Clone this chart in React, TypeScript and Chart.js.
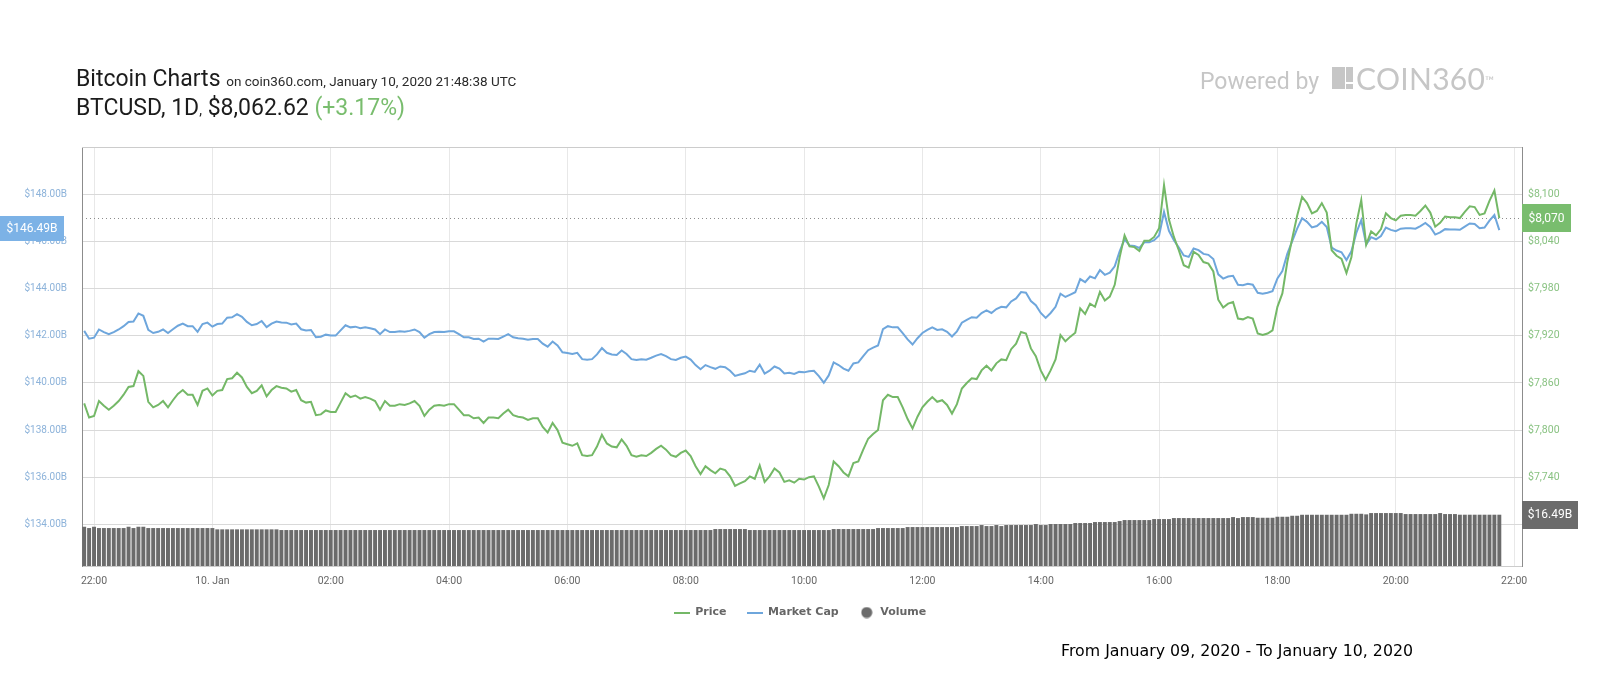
import React, { useEffect, useRef } from "react";
import { Chart, registerables } from "chart.js";

Chart.register(...registerables);

// ---------- data ----------
const startMinute = -10; // first sample 21:50 (minutes relative to 22:00, Jan 9)
const stepMinutes = 5;

const xTickMinutes = [0, 120, 240, 360, 480, 600, 720, 840, 960, 1080, 1200, 1320, 1440];
const xTickLabels = ["22:00", "10. Jan", "02:00", "04:00", "06:00", "08:00", "10:00", "12:00", "14:00", "16:00", "18:00", "20:00", "22:00"];
const marketCapTicks = [134, 136, 138, 140, 142, 144, 146, 148];
const priceTicks = [7680, 7740, 7800, 7860, 7920, 7980, 8040, 8100];

const priceValues = [
  7834, 7816, 7818, 7837, 7831, 7826, 7831, 7837, 7845, 7855, 7856, 7875,
  7869, 7836, 7829, 7832, 7837, 7829, 7838, 7846, 7851, 7845, 7845, 7832,
  7850, 7853, 7844, 7850, 7851, 7865, 7866, 7873, 7867, 7855, 7847, 7850,
  7857, 7843, 7851, 7856, 7854, 7853, 7849, 7851, 7838, 7835, 7836, 7819,
  7820, 7825, 7823, 7823, 7835, 7847, 7842, 7844, 7840, 7842, 7840, 7837,
  7826, 7837, 7831, 7831, 7833, 7832, 7834, 7837, 7831, 7818, 7826, 7831,
  7832, 7831, 7833, 7833, 7826, 7819, 7819, 7815, 7816, 7809, 7816, 7816,
  7815, 7821, 7826, 7819, 7817, 7816, 7813, 7815, 7815, 7804, 7797, 7809,
  7800, 7784, 7782, 7780, 7783, 7768, 7767, 7768, 7779, 7794, 7783, 7779,
  7778, 7788, 7780, 7768, 7766, 7768, 7767, 7771, 7776, 7780, 7775, 7768,
  7766, 7771, 7774, 7767, 7754, 7744, 7754, 7749, 7745, 7751, 7749, 7741,
  7729, 7732, 7735, 7741, 7738, 7755, 7734, 7741, 7751, 7746, 7734, 7736,
  7733, 7738, 7737, 7740, 7741, 7728, 7713, 7730, 7760, 7754, 7746, 7741,
  7758, 7760, 7775, 7789, 7795, 7800, 7838, 7845, 7842, 7842, 7829, 7814,
  7802, 7817, 7829, 7836, 7842, 7836, 7838, 7832, 7821, 7833, 7853, 7860,
  7866, 7865, 7876, 7882, 7876, 7885, 7890, 7889, 7903, 7910, 7925, 7923,
  7904, 7894, 7876, 7864, 7876, 7890, 7921, 7913, 7919, 7924, 7955, 7948,
  7961, 7957, 7976, 7965, 7970, 7985, 8020, 8048, 8034, 8033, 8028, 8041,
  8041, 8046, 8057, 8112, 8068, 8046, 8029, 8010, 8007, 8027, 8023, 8014,
  8012, 8002, 7966, 7956, 7961, 7963, 7942, 7941, 7944, 7942, 7923, 7921,
  7923, 7927, 7957, 7974, 8014, 8044, 8073, 8097, 8089, 8076, 8079, 8089,
  8077, 8029, 8022, 8018, 8000, 8020, 8063, 8093, 8036, 8053, 8048, 8056,
  8076, 8070, 8067, 8073, 8074, 8074, 8073, 8079, 8086, 8077, 8059, 8064,
  8072, 8071, 8071, 8070, 8078, 8085, 8084, 8074, 8076, 8092, 8105, 8070,
];

const marketCapValues = [
  142.21, 141.88, 141.92, 142.27, 142.16, 142.07, 142.16, 142.27, 142.41, 142.59, 142.61, 142.95,
  142.85, 142.25, 142.12, 142.17, 142.27, 142.12, 142.28, 142.43, 142.52, 142.41, 142.41, 142.17,
  142.50, 142.56, 142.39, 142.50, 142.52, 142.77, 142.79, 142.92, 142.81, 142.59, 142.45, 142.50,
  142.63, 142.37, 142.52, 142.61, 142.57, 142.56, 142.48, 142.52, 142.28, 142.23, 142.25, 141.94,
  141.96, 142.05, 142.01, 142.01, 142.23, 142.45, 142.36, 142.39, 142.32, 142.36, 142.32, 142.27,
  142.07, 142.27, 142.16, 142.16, 142.19, 142.17, 142.21, 142.27, 142.16, 141.92, 142.07, 142.16,
  142.17, 142.16, 142.19, 142.19, 142.07, 141.94, 141.94, 141.87, 141.88, 141.76, 141.88, 141.88,
  141.87, 141.97, 142.07, 141.94, 141.90, 141.88, 141.83, 141.87, 141.87, 141.67, 141.54, 141.76,
  141.59, 141.30, 141.27, 141.23, 141.28, 141.01, 140.99, 141.01, 141.21, 141.48, 141.28, 141.21,
  141.19, 141.38, 141.23, 141.01, 140.98, 141.01, 140.99, 141.07, 141.16, 141.23, 141.14, 141.01,
  140.98, 141.07, 141.12, 140.99, 140.76, 140.58, 140.76, 140.67, 140.60, 140.70, 140.67, 140.52,
  140.30, 140.36, 140.41, 140.52, 140.47, 140.78, 140.40, 140.52, 140.70, 140.61, 140.40, 140.43,
  140.38, 140.47, 140.45, 140.50, 140.52, 140.29, 140.01, 140.32, 140.87, 140.76, 140.61, 140.52,
  140.83, 140.87, 141.14, 141.39, 141.50, 141.59, 142.28, 142.41, 142.36, 142.36, 142.12, 141.85,
  141.63, 141.90, 142.12, 142.25, 142.36, 142.25, 142.28, 142.17, 141.97, 142.19, 142.56, 142.68,
  142.79, 142.77, 142.97, 143.08, 142.97, 143.14, 143.23, 143.21, 143.46, 143.59, 143.86, 143.83,
  143.48, 143.30, 142.97, 142.76, 142.97, 143.23, 143.79, 143.65, 143.75, 143.85, 144.41, 144.28,
  144.52, 144.44, 144.79, 144.59, 144.68, 144.95, 145.59, 146.10, 145.84, 145.82, 145.73, 145.97,
  145.97, 146.06, 146.26, 147.26, 146.46, 146.06, 145.75, 145.41, 145.35, 145.71, 145.64, 145.48,
  145.44, 145.26, 144.61, 144.43, 144.52, 144.55, 144.17, 144.15, 144.21, 144.17, 143.83, 143.79,
  143.83, 143.90, 144.44, 144.75, 145.48, 146.02, 146.55, 146.99, 146.84, 146.60, 146.66, 146.84,
  146.62, 145.75, 145.62, 145.55, 145.22, 145.59, 146.37, 146.91, 145.88, 146.19, 146.10, 146.24,
  146.60, 146.50, 146.44, 146.55, 146.57, 146.57, 146.55, 146.66, 146.79, 146.62, 146.30, 146.39,
  146.53, 146.51, 146.51, 146.50, 146.64, 146.77, 146.75, 146.57, 146.60, 146.89, 147.13, 146.49,
];

const volumeValues = [
  12.62, 12.20, 12.62, 12.20, 12.20, 12.20, 12.20, 12.20, 12.20, 12.62, 12.20, 12.62,
  12.62, 12.20, 12.20, 12.20, 12.20, 12.20, 12.20, 12.20, 12.20, 12.20, 12.20, 12.20,
  12.20, 12.20, 12.20, 11.78, 11.78, 11.78, 11.78, 11.78, 11.78, 11.78, 11.78, 11.78,
  11.78, 11.78, 11.78, 11.78, 11.56, 11.56, 11.56, 11.56, 11.56, 11.56, 11.56, 11.56,
  11.56, 11.56, 11.56, 11.56, 11.56, 11.56, 11.56, 11.56, 11.56, 11.56, 11.56, 11.56,
  11.56, 11.56, 11.56, 11.56, 11.56, 11.56, 11.56, 11.56, 11.56, 11.56, 11.56, 11.56,
  11.56, 11.56, 11.56, 11.56, 11.56, 11.56, 11.56, 11.56, 11.56, 11.56, 11.56, 11.56,
  11.56, 11.56, 11.56, 11.56, 11.56, 11.56, 11.56, 11.56, 11.56, 11.56, 11.56, 11.56,
  11.56, 11.56, 11.56, 11.56, 11.56, 11.56, 11.56, 11.56, 11.56, 11.56, 11.56, 11.56,
  11.56, 11.56, 11.56, 11.56, 11.56, 11.56, 11.56, 11.56, 11.56, 11.56, 11.56, 11.56,
  11.56, 11.56, 11.56, 11.56, 11.56, 11.56, 11.56, 11.56, 11.88, 11.88, 11.88, 11.88,
  11.88, 11.88, 11.88, 11.56, 11.56, 11.56, 11.56, 11.56, 11.56, 11.56, 11.56, 11.56,
  11.56, 11.56, 11.56, 11.56, 11.56, 11.56, 11.56, 11.56, 11.88, 11.88, 11.88, 11.88,
  11.88, 11.88, 11.88, 11.88, 11.88, 12.20, 12.20, 12.20, 12.20, 12.20, 12.20, 12.52,
  12.52, 12.52, 12.52, 12.52, 12.52, 12.52, 12.52, 12.52, 12.52, 12.52, 12.84, 12.84,
  12.84, 12.84, 13.17, 12.84, 12.84, 13.17, 12.84, 13.17, 13.17, 13.17, 13.17, 13.17,
  13.17, 13.49, 13.17, 13.17, 13.49, 13.49, 13.49, 13.49, 13.49, 13.81, 13.81, 13.81,
  13.81, 14.13, 14.13, 14.13, 14.13, 14.13, 14.45, 14.77, 14.77, 14.77, 14.77, 14.77,
  14.77, 15.09, 15.09, 15.09, 15.09, 15.41, 15.41, 15.41, 15.41, 15.41, 15.41, 15.41,
  15.41, 15.41, 15.41, 15.41, 15.41, 15.73, 15.41, 15.73, 15.73, 15.73, 15.51, 15.51,
  15.51, 15.51, 15.83, 15.83, 15.83, 16.15, 16.15, 16.47, 16.47, 16.47, 16.47, 16.47,
  16.47, 16.47, 16.47, 16.47, 16.47, 16.79, 16.79, 16.79, 16.60, 17.02, 17.02, 17.02,
  17.02, 17.02, 17.02, 17.02, 16.70, 16.70, 16.70, 16.70, 16.70, 16.70, 16.70, 17.02,
  16.70, 16.70, 16.70, 16.49, 16.49, 16.49, 16.49, 16.49, 16.49, 16.49, 16.49, 16.49,
];

// ---------- styles ----------
const PRICE_COLOR = "#74b867";
const MCAP_COLOR = "#6ea6dc";
const VOLUME_COLOR = "#6b6b6b";

const fmtPrice = (v: number) => "$" + Math.round(v).toLocaleString("en-US");
const fmtBillions = (v: number) => "$" + Number(v).toFixed(2) + "B";

function lineIcon(color: string) {
  const c = document.createElement("canvas");
  c.width = 16;
  c.height = 2;
  const g = c.getContext("2d")!;
  g.fillStyle = color;
  g.fillRect(0, 0, 16, 2);
  return c;
}
function dotIcon(color: string) {
  const c = document.createElement("canvas");
  c.width = 12;
  c.height = 12;
  const g = c.getContext("2d")!;
  g.fillStyle = color;
  g.beginPath();
  g.arc(6, 6, 5.5, 0, Math.PI * 2);
  g.fill();
  return c;
}

const overlayPlugin = {
  id: "overlay",
  beforeDatasetsDraw(chart: any) {
    const { ctx, chartArea: ca, scales } = chart;
    ctx.save();
    // top frame line
    ctx.strokeStyle = "#cccccc";
    ctx.lineWidth = 1;
    ctx.beginPath();
    ctx.moveTo(ca.left, Math.round(ca.top) + 0.5);
    ctx.lineTo(ca.right, Math.round(ca.top) + 0.5);
    ctx.stroke();
    // dotted current-price line
    const yLast = scales.yP.getPixelForValue(priceValues[priceValues.length - 1]);
    ctx.strokeStyle = "#8c8c8c";
    ctx.setLineDash([1, 3]);
    ctx.beginPath();
    ctx.moveTo(ca.left, Math.round(yLast) + 0.5);
    ctx.lineTo(ca.right, Math.round(yLast) + 0.5);
    ctx.stroke();
    ctx.restore();
  },
  afterDraw(chart: any) {
    const { ctx, chartArea: ca, scales } = chart;
    const tag = (x: number, cy: number, w: number, h: number, bg: string, text: string) => {
      ctx.save();
      ctx.fillStyle = bg;
      ctx.fillRect(x, Math.round(cy - h / 2), w, h);
      ctx.fillStyle = "#ffffff";
      ctx.font = "12px Roboto";
      ctx.textAlign = "center";
      ctx.textBaseline = "middle";
      ctx.fillText(text, x + w / 2, cy + 0.5);
      ctx.restore();
    };
    const lastM = marketCapValues[marketCapValues.length - 1];
    const lastP = priceValues[priceValues.length - 1];
    const lastV = volumeValues[volumeValues.length - 1];
    tag(0, scales.yM.getPixelForValue(lastM) - 2, ca.left - 18, 25, "#7cb2e6", fmtBillions(lastM));
    tag(ca.right, scales.yP.getPixelForValue(lastP), 49, 28, "#79bd6e", fmtPrice(lastP));
    tag(ca.right, scales.yV.getPixelForValue(lastV), 56, 28, "#6b6b6b", fmtBillions(lastV));
  },
};

function BitcoinChart() {
  const ref = useRef<HTMLCanvasElement | null>(null);

  useEffect(() => {
    if (!ref.current) return;
    const times = priceValues.map((_, i) => startMinute + i * stepMinutes);
    const icons = [lineIcon(PRICE_COLOR), lineIcon(MCAP_COLOR), dotIcon(VOLUME_COLOR)];

    const chart = new Chart(ref.current, {
      type: "line",
      data: {
        datasets: [
          {
            type: "line",
            label: "Price",
            data: priceValues.map((y, i) => ({ x: times[i], y })),
            yAxisID: "yP",
            borderColor: PRICE_COLOR,
            backgroundColor: PRICE_COLOR,
            borderWidth: 2,
            pointRadius: 0,
            tension: 0,
          },
          {
            type: "line",
            label: "Market Cap",
            data: marketCapValues.map((y, i) => ({ x: times[i], y })),
            yAxisID: "yM",
            borderColor: MCAP_COLOR,
            backgroundColor: MCAP_COLOR,
            borderWidth: 2,
            pointRadius: 0,
            tension: 0,
          },
          {
            type: "bar",
            label: "Volume",
            data: volumeValues.map((y, i) => ({ x: times[i], y })),
            yAxisID: "yV",
            backgroundColor: VOLUME_COLOR,
            barPercentage: 0.8,
            categoryPercentage: 1,
          },
        ],
      } as any,
      options: {
        animation: false,
        responsive: true,
        maintainAspectRatio: false,
        events: [],
        layout: { padding: { top: 147, bottom: 72, left: 0, right: 0 } },
        font: { family: "Roboto" },
        scales: {
          x: {
            type: "linear",
            min: -12.2,
            max: 1448,
            offset: false,
            grid: { color: "#e8e8e8", drawTicks: false, offset: false },
            border: { display: true, color: "#cccccc" },
            ticks: {
              autoSkip: false,
              maxRotation: 0,
              padding: 9,
              color: "#666666",
              font: { family: "Roboto", size: 10.5 },
              callback: (_v: any, i: number) => xTickLabels[i],
            },
            afterBuildTicks: (s: any) => {
              s.ticks = xTickMinutes.map((v) => ({ value: v }));
            },
            afterFit: (s: any) => {
              s.height = 21;
            },
          },
          yM: {
            type: "linear",
            position: "left",
            min: 132.229,
            max: 150.017,
            grid: { color: "#d9d9d9", drawTicks: false },
            border: { display: true, color: "#8c8c8c" },
            ticks: {
              padding: 15,
              color: "#8db3da",
              font: { family: "Roboto", size: 10 },
              callback: (v: any) => fmtBillions(v),
            },
            afterBuildTicks: (s: any) => {
              s.ticks = marketCapTicks.map((v) => ({ value: v }));
            },
            afterFit: (s: any) => {
              s.width = 82;
            },
          },
          yP: {
            type: "linear",
            position: "right",
            min: 7626.9,
            max: 8160.5,
            grid: { display: false, drawTicks: false },
            border: { display: true, color: "#8c8c8c" },
            ticks: {
              padding: 6,
              color: "#89c282",
              font: { family: "Roboto", size: 10.5 },
              callback: (v: any) => fmtPrice(v),
            },
            afterBuildTicks: (s: any) => {
              s.ticks = priceTicks.map((v) => ({ value: v }));
            },
            afterFit: (s: any) => {
              s.width = 78;
            },
          },
          yV: {
            type: "linear",
            display: false,
            min: 0,
            max: 134.7,
          },
        },
        plugins: {
          tooltip: { enabled: false },
          legend: {
            position: "bottom",
            labels: {
              usePointStyle: true,
              pointStyleWidth: 16,
              padding: 20,
              color: "#666666",
              font: { family: "DejaVu Sans", size: 11, weight: "bold" },
              generateLabels: (c: any) =>
                c.data.datasets.map((ds: any, i: number) => ({
                  text: ds.label,
                  pointStyle: icons[i],
                  fillStyle: ds.backgroundColor,
                  strokeStyle: ds.backgroundColor,
                  lineWidth: 0,
                  hidden: false,
                  datasetIndex: i,
                  fontColor: "#666666",
                })),
            },
          },
        },
      } as any,
      plugins: [overlayPlugin],
    });
    return () => chart.destroy();
  }, []);

  return <canvas ref={ref} />;
}

export default function App() {
  const abs = (o: React.CSSProperties): React.CSSProperties => ({ position: "absolute", whiteSpace: "nowrap", ...o });
  return (
    <div style={{ position: "absolute", left: 0, top: 0, width: 1600, height: 700, background: "#ffffff", overflow: "hidden" }}>
      <div style={{ position: "absolute", left: 0, top: 0, width: 1600, height: 700 }}>
        <BitcoinChart />
      </div>
      <div style={abs({ left: 76, top: 67, fontFamily: "Roboto", fontSize: 23, lineHeight: "23px", color: "#1c1c1c" })}>
        Bitcoin Charts <span style={{ fontSize: 13.5, color: "#2a2a2a" }}>on coin360.com, January 10, 2020 21:48:38 UTC</span>
      </div>
      <div style={abs({ left: 76, top: 95.5, fontFamily: "Roboto", fontSize: 23, lineHeight: "23px", color: "#1c1c1c" })}>
        BTCUSD, 1D<span style={{ fontSize: 14 }}>,</span> $8,062.62 <span style={{ color: "#79bd6e" }}>(+3.17%)</span>
      </div>
      <div style={abs({ left: 1200, top: 70, fontFamily: "Roboto", fontSize: 23, lineHeight: "23px", color: "#c6c6c6" })}>Powered by</div>
      <div style={abs({ left: 1332, top: 67, width: 13, height: 22, background: "#c6c6c6" })} />
      <div style={abs({ left: 1346, top: 67, width: 7, height: 14.5, background: "#c6c6c6" })} />
      <div style={abs({ left: 1346, top: 84, width: 7, height: 5, background: "#c6c6c6" })} />
      <div style={abs({ left: 1356, top: 62.5, fontFamily: "Lato", fontWeight: 400, fontSize: 30, lineHeight: "30px", color: "#c6c6c6", letterSpacing: 0.3 })}>
        COIN360<span style={{ fontSize: 12, verticalAlign: "top", position: "relative", top: 3 }}>™</span>
      </div>
      <div style={abs({ left: 1061, top: 642.5, fontFamily: "DejaVu Sans", fontSize: 15.8, lineHeight: "15.8px", color: "#000000" })}>
        From January 09, 2020 - To January 10, 2020
      </div>
    </div>
  );
}
